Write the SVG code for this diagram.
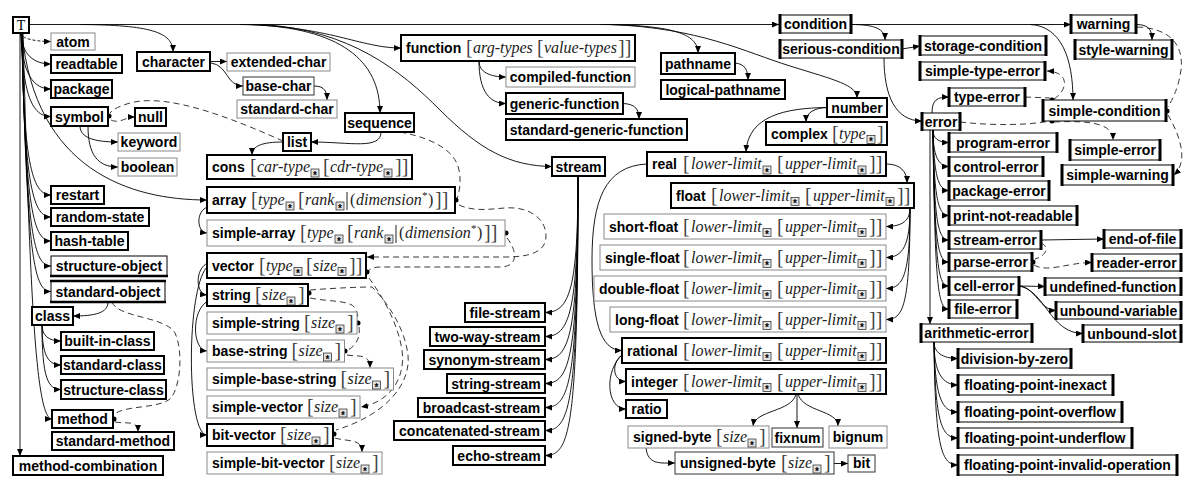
<svg xmlns="http://www.w3.org/2000/svg" width="1200" height="493" viewBox="0 0 1200 493">
<style>
.k{fill:#fff;stroke:#000;stroke-width:2}
.g{fill:#fff;stroke:#8a8a8a;stroke-width:1}
.d{fill:#fff;stroke:#333;stroke-width:1}
.cr{fill:#fff;stroke:#000;stroke-width:1}
.cb{stroke:#000;stroke-width:3}
.tb{stroke:#000;stroke-width:2.5}
.t{font-family:"Liberation Sans",Arial,sans-serif;font-weight:bold;font-size:14px;fill:#000}
.m{text-anchor:middle}
.ts{font-family:"Liberation Serif","Times New Roman",serif;font-size:14px;fill:#000;text-anchor:middle}
.it{font-family:"Liberation Serif","Times New Roman",serif;font-style:italic;font-size:16px;fill:#222}
.up{font-family:"Liberation Serif","Times New Roman",serif;font-size:16px;fill:#222}
.sup{font-family:"Liberation Serif","Times New Roman",serif;font-size:11px;fill:#222}
.br{font-family:"Liberation Serif","Times New Roman",serif;font-size:20px;fill:#444}
.sa{font-family:"Liberation Sans",Arial,sans-serif;font-weight:bold;font-size:10px;fill:#000;text-anchor:middle}
.e{fill:none;stroke:#000;stroke-width:0.9;marker-end:url(#a)}
.l{fill:none;stroke:#000;stroke-width:0.9}
.ds{fill:none;stroke:#222;stroke-width:0.9;stroke-dasharray:6 4}
.da{fill:none;stroke:#222;stroke-width:0.9;stroke-dasharray:6 4;marker-end:url(#a)}
.dt{fill:none;stroke:#000;stroke-width:0.9;stroke-dasharray:3 2;marker-end:url(#a)}
.dot{fill:#000}
</style>
<defs>
<marker id="a" viewBox="0 0 7 6" refX="7" refY="3" markerWidth="7" markerHeight="6" orient="auto" markerUnits="userSpaceOnUse"><path d="M0,0 L7,3 L0,6 z" fill="#000"/></marker>
<g id="st"><rect x="0" y="-3" width="8" height="8" fill="#e2e2e2" stroke="#222" stroke-width="0.7"/><text class="sa" x="4" y="6.6">*</text></g>
<g id="L-lim"><text class="br" x="0" y="1">[</text><text class="it" x="8" y="0">lower-limit</text><use href="#st" x="80"/><text class="br" x="94" y="1">[</text><text class="it" x="102" y="0">upper-limit</text><use href="#st" x="175"/><text class="br" x="186" y="1">]]</text></g>
<g id="L-size"><text class="br" x="0" y="1">[</text><text class="it" x="7" y="0">size</text><use href="#st" x="32"/><text class="br" x="43" y="1">]</text></g>
<g id="L-ts"><text class="br" x="0" y="1">[</text><text class="it" x="7" y="0">type</text><use href="#st" x="35"/><text class="br" x="47" y="1">[</text><text class="it" x="54" y="0">size</text><use href="#st" x="79"/><text class="br" x="90" y="1">]]</text></g>
<g id="L-cons"><text class="br" x="0" y="1">[</text><text class="it" x="7" y="0">car-type</text><use href="#st" x="61"/><text class="br" x="73" y="1">[</text><text class="it" x="80" y="0">cdr-type</text><use href="#st" x="134"/><text class="br" x="145" y="1">]]</text></g>
<g id="L-arr"><text class="br" x="0" y="1">[</text><text class="it" x="7" y="0">type</text><use href="#st" x="35"/><text class="br" x="47" y="1">[</text><text class="it" x="54" y="0">rank</text><use href="#st" x="85"/><line x1="96" y1="-13" x2="96" y2="5" stroke="#222" stroke-width="1"/><text class="up" x="99" y="0">(</text><text class="it" x="105" y="0">dimension</text><text class="sup" x="171" y="-6">*</text><text class="up" x="177" y="0">)</text><text class="br" x="184" y="1">]]</text></g>
<g id="L-type"><text class="br" x="0" y="1">[</text><text class="it" x="7" y="0">type</text><use href="#st" x="35"/><text class="br" x="45" y="1">]</text></g>
<g id="L-fn"><text class="br" x="0" y="1">[</text><text class="it" x="7" y="0">arg-types</text><text class="br" x="71" y="1">[</text><text class="it" x="78" y="0">value-types</text><text class="br" x="152" y="1">]]</text></g>
</defs>
<rect width="1200" height="493" fill="#fff"/>

<g id="connectors">
<path class="e" d="M29,24.5 L779,24.5"/>
<path class="dt" d="M20,33 C21,38 33,41.5 51,41.5"/>
<path class="e" d="M21,33 C22,55 34,64 51,64"/>
<path class="e" d="M21,33 C22,75 34,89 51,89"/>
<path class="e" d="M21,33 C23,100 34,116.5 51,116.5"/>
<path class="e" d="M22,33 C23,170 34,195 51,195"/>
<path class="e" d="M22,33 C24,190 34,217 51,217"/>
<path class="e" d="M22,33 C25,212 34,241 51,241"/>
<path class="e" d="M22,33 C26,235 34,266 51,266"/>
<path class="e" d="M22,33 C27,258 34,291.5 51,291.5"/>
<path class="e" d="M23,33 C30,300 36,419 52,419"/>
<path class="e" d="M20,33 L20,456"/>
<path class="e" d="M22,33 C35,170 130,200 207,200"/>
<path class="e" d="M80,126 C80,138 95,142 118,142"/>
<path class="e" d="M88,126 C88,155 98,167 118,167"/>
<path class="e" d="M108,302 C108,313 95,316 73,316"/>
<path class="e" d="M42,325 C42,335 48,341 61,341"/>
<path class="e" d="M42,325 C42,355 48,365 61,365"/>
<path class="e" d="M42,325 C42,378 48,389.5 61,389.5"/>
<path class="ds" d="M283,141 C240,122 170,92 130,103 C120,106 113,109 110,113"/>
<path class="da" d="M111,120 C120,124 125,117 135,117"/>
<path class="ds" d="M112,302 C118,318 165,316 175,333 C183,350 181,385 171,398 C160,409 125,405 115,414"/>
<path class="da" d="M115,422 C127,424 138,420 138,432"/>
<path class="e" d="M80,24.5 C150,25 173,32 173,52"/>
<path class="e" d="M210,61.5 L227,61.5"/>
<path class="e" d="M211,63 C228,65 226,86 243,86"/>
<path class="e" d="M314,86 C325,86 327,92 327,100"/>
<path class="e" d="M240,24.5 C330,26 360,48 401,48"/>
<path class="e" d="M250,24.5 C340,28 380,60 380,113"/>
<path class="e" d="M262,24.5 C350,30 400,70 440,110 C480,150 510,166 552,166.5"/>
<path class="e" d="M381,132 C381,150 350,142 311,142"/>
<path class="e" d="M283,142 C262,142 252,146 252,155"/>
<path class="e" d="M208,207 C196,210 196,232 207,233"/>
<path class="e" d="M208,263 C195,268 195,294 207,295"/>
<path class="e" d="M208,301 C191,310 192,350 207,351"/>
<path class="e" d="M208,266 C186,285 186,435 207,435"/>
<path class="ds" d="M400,132 C432,138 455,150 459,170 C462,185 458,195 457,199"/>
<path class="da" d="M459,205 C475,212 490,209 505,208 C528,206 546,218 546,236 C546,252 530,257 505,257 L367,257"/>
<path class="ds" d="M507,238 C518,252 518,267 500,267 L380,267 C372,267 369,270 367,272"/>
<path class="da" d="M369,278 C385,300 398,325 402,350 C406,378 390,402 361,407"/>
<path class="ds" d="M310,290 C335,288 360,287 372,287 C390,305 405,330 408,355 C411,385 385,415 336,430"/>
<path class="ds" d="M310,298 C330,302 350,300 355,308 C358,313 358,318 358,322"/>
<path class="ds" d="M359,327 C361,340 353,348 346,351"/>
<path class="da" d="M347,355 C358,357 370,353 370,368"/>
<path class="da" d="M335,438 C348,442 362,438 362,452"/>
<path class="e" d="M479,61 C479,72 490,77 506,77"/>
<path class="e" d="M479,61 C479,92 490,103.5 506,103.5"/>
<path class="e" d="M623,103.5 C635,104 639,109 639,119"/>
<path class="e" d="M600,24.5 C670,25 698,33 698,53"/>
<path class="e" d="M735,63 C745,64 748,70 748,80"/>
<path class="e" d="M578,176 C578,288 570,312.5 545,312.5"/>
<path class="e" d="M578,176 C578,311 570,336.5 545,336.5"/>
<path class="e" d="M578,176 C578,334 570,359.5 545,359.5"/>
<path class="e" d="M578,176 C578,358 570,383.5 545,383.5"/>
<path class="e" d="M578,176 C578,382 570,407.5 545,407.5"/>
<path class="e" d="M578,176 C578,405 570,430.5 545,430.5"/>
<path class="e" d="M578,176 C578,430 570,455.5 545,455.5"/>
<path class="e" d="M610,24.5 C700,28 745,52 790,66 C835,80 857,85 857,98"/>
<path class="e" d="M827,107.5 C815,108 806,112 806,122"/>
<path class="e" d="M827,107.5 C785,108 748,116 746,152"/>
<path class="e" d="M886,164 C900,164 907,171 907,183"/>
<path class="e" d="M910,208 C910,220 903,226.5 886,226.5"/>
<path class="e" d="M910,208 C910,245 903,257.5 886,257.5"/>
<path class="e" d="M910,208 C910,276 903,288.5 886,288.5"/>
<path class="e" d="M910,208 C910,307 903,319.5 886,319.5"/>
<path class="e" d="M647,164 C605,166 592,200 592,260 C592,320 600,350.5 622,350.5"/>
<path class="e" d="M623,354 C611,362 612,381.5 626,381.5"/>
<path class="e" d="M623,354 C604,370 606,409 626,409"/>
<path class="e" d="M796,394 C792,412 755,410 753,426"/>
<path class="e" d="M797,394 L797,428"/>
<path class="e" d="M798,394 C803,412 838,410 838,426"/>
<path class="e" d="M646,448 C648,465 660,463 675,463"/>
<path class="e" d="M834,463.5 L848,463.5"/>
<path class="e" d="M851,24.5 C875,24.5 885,29 885,40"/>
<path class="e" d="M851,24.5 L1071,24.5"/>
<path class="e" d="M1030,24.5 C1062,26 1073,60 1073,100"/>
<path class="e" d="M902,49 L920,46"/>
<path class="e" d="M884,58 C884,95 895,121 922,121"/>
<path class="e" d="M1136,24.5 C1149,24.5 1152,30 1152,40"/>
<path class="e" d="M932,113 C932,100 937,97 949,97"/>
<path class="e" d="M933,130 C933,138 938,142.5 949,142.5"/>
<path class="e" d="M933,130 C933,155 938,166.5 949,166.5"/>
<path class="e" d="M933,130 C934,175 938,190.5 949,190.5"/>
<path class="e" d="M933,130 C934,198 938,215.5 949,215.5"/>
<path class="e" d="M933,130 C934,222 938,240 949,240"/>
<path class="e" d="M933,130 C934,244 938,262 949,262"/>
<path class="e" d="M933,130 C935,268 938,286 949,286"/>
<path class="e" d="M933,130 C935,290 938,309 949,309"/>
<path class="e" d="M930,130 L930,324"/>
<path class="e" d="M934,342 C934,352 942,358.5 958,358.5"/>
<path class="e" d="M934,342 C934,372 942,385 958,385"/>
<path class="e" d="M934,342 C935,398 942,412 958,412"/>
<path class="e" d="M934,342 C935,424 942,438 958,438"/>
<path class="e" d="M934,342 C935,450 942,465 958,465"/>
<path class="e" d="M1041,240 L1104,239"/>
<path class="e" d="M1019,286 L1045,286.5"/>
<path class="e" d="M1019,286 C1035,287 1040,310.5 1056,310.5"/>
<path class="e" d="M1019,286 C1045,290 1050,333.5 1083,333.5"/>
<path class="ds" d="M1025,97 L1050,98"/>
<path class="da" d="M1054,99 C1068,90 1070,72 1047,71"/>
<path class="ds" d="M960,122 C995,126 1030,125 1050,121"/>
<path class="da" d="M1054,122 C1095,120 1113,125 1113,140"/>
<path class="ds" d="M1137,27 C1170,28 1184,45 1181,70 C1178,90 1172,100 1168,107"/>
<path class="da" d="M1168,115 C1178,132 1190,160 1174,175"/>
<path class="ds" d="M1041,243 C1050,247 1046,256 1035,259"/>
<path class="da" d="M1034,265 C1048,273 1068,262.5 1092,262.5"/>
<circle class="dot" cx="109" cy="116" r="2.5"/>
<circle class="dot" cx="114" cy="419" r="2.5"/>
<circle class="dot" cx="456" cy="200" r="2.5"/>
<circle class="dot" cx="506" cy="233" r="2.5"/>
<circle class="dot" cx="367" cy="272" r="2.5"/>
<circle class="dot" cx="309" cy="293" r="2.5"/>
<circle class="dot" cx="358" cy="323" r="2.5"/>
<circle class="dot" cx="345" cy="351" r="2.5"/>
<circle class="dot" cx="334" cy="434" r="2.5"/>
<circle class="dot" cx="1052" cy="100" r="2.5"/>
<circle class="dot" cx="1052" cy="121" r="2.5"/>
<circle class="dot" cx="1167" cy="111" r="2.5"/>
<circle class="dot" cx="1033" cy="262" r="2.5"/>
</g>

<g id="n-T"><rect class="k" x="13" y="17" width="16" height="16"/><text class="ts" x="21" y="30">T</text></g>
<g id="n-atom"><rect class="g" x="51" y="33" width="44" height="17"/><text class="t m" x="73" y="46.5">atom</text></g>
<g id="n-readtable"><rect class="k" x="51" y="55" width="71" height="18"/><text class="t m" x="86.5" y="69">readtable</text></g>
<g id="n-package"><rect class="k" x="51" y="80" width="61" height="18"/><text class="t m" x="81.5" y="94">package</text></g>
<g id="n-symbol"><rect class="k" x="51" y="107" width="57" height="19"/><text class="t m" x="79.5" y="121.5">symbol</text></g>
<g id="n-null"><rect class="k" x="135" y="108" width="31" height="18"/><text class="t m" x="150.5" y="122">null</text></g>
<g id="n-keyword"><rect class="g" x="118" y="133" width="62" height="18"/><text class="t m" x="149" y="147">keyword</text></g>
<g id="n-boolean"><rect class="g" x="118" y="158" width="59" height="18"/><text class="t m" x="147.5" y="172">boolean</text></g>
<g id="n-restart"><rect class="k" x="51" y="186" width="53" height="18"/><text class="t m" x="77.5" y="200">restart</text></g>
<g id="n-random-state"><rect class="k" x="51" y="208" width="98" height="18"/><text class="t m" x="100" y="222">random-state</text></g>
<g id="n-hash-table"><rect class="k" x="51" y="232" width="77" height="18"/><text class="t m" x="89.5" y="246">hash-table</text></g>
<g id="n-structure-object"><rect class="cr" x="51" y="256" width="116" height="20"/><line class="tb" x1="50" y1="276" x2="168" y2="276"/><text class="t m" x="109" y="271">structure-object</text></g>
<g id="n-standard-object"><rect class="cr" x="51" y="281" width="114" height="21"/><line class="tb" x1="50" y1="281" x2="166" y2="281"/><line class="tb" x1="50" y1="302" x2="166" y2="302"/><text class="t m" x="108" y="296.5">standard-object</text></g>
<g id="n-class"><rect class="k" x="32" y="307" width="41" height="18"/><text class="t m" x="52.5" y="321">class</text></g>
<g id="n-built-in-class"><rect class="k" x="61" y="332" width="93" height="18"/><text class="t m" x="107.5" y="346">built-in-class</text></g>
<g id="n-standard-class"><rect class="k" x="61" y="356" width="103" height="18"/><text class="t m" x="112.5" y="370">standard-class</text></g>
<g id="n-structure-class"><rect class="k" x="61" y="380" width="105" height="19"/><text class="t m" x="113.5" y="394.5">structure-class</text></g>
<g id="n-method"><rect class="k" x="52" y="410" width="61" height="18"/><text class="t m" x="82.5" y="424">method</text></g>
<g id="n-standard-method"><rect class="k" x="52" y="432" width="122" height="18"/><text class="t m" x="113" y="446">standard-method</text></g>
<g id="n-method-combination"><rect class="k" x="13" y="456" width="150" height="19"/><text class="t m" x="88" y="470.5">method-combination</text></g>

<g id="n-character"><rect class="k" x="137" y="52" width="73" height="19"/><text class="t m" x="173.5" y="66.5">character</text></g>
<g id="n-extended-char"><rect class="g" x="227" y="53" width="103" height="18"/><text class="t m" x="278.5" y="67">extended-char</text></g>
<g id="n-base-char"><rect class="d" x="243" y="77" width="71" height="18"/><text class="t m" x="278.5" y="91">base-char</text></g>
<g id="n-standard-char"><rect class="g" x="237" y="100" width="100" height="18"/><text class="t m" x="287" y="114">standard-char</text></g>
<g id="n-sequence"><rect class="k" x="345" y="113" width="69" height="19"/><text class="t m" x="379.5" y="127.5">sequence</text></g>
<g id="n-list"><rect class="k" x="283" y="133" width="28" height="18"/><text class="t m" x="297" y="147">list</text></g>
<g id="n-cons"><rect class="k" x="207" y="155" width="205" height="24"/><text class="t" x="212" y="172">cons</text><use href="#L-cons" x="250" y="172"/></g>
<g id="n-array"><rect class="k" x="207" y="187" width="248" height="26"/><text class="t" x="212" y="205">array</text><use href="#L-arr" x="251" y="205"/></g>
<g id="n-simple-array"><rect class="g" x="207" y="220" width="298" height="26"/><text class="t" x="212" y="238">simple-array</text><use href="#L-arr" x="300" y="238"/></g>
<g id="n-vector"><rect class="k" x="207" y="253" width="159" height="25"/><text class="t" x="212" y="270.5">vector</text><use href="#L-ts" x="259" y="270.5"/></g>
<g id="n-string"><rect class="k" x="207" y="284" width="101" height="22"/><text class="t" x="212" y="300">string</text><use href="#L-size" x="255" y="300"/></g>
<g id="n-simple-string"><rect class="g" x="207" y="312" width="150" height="22"/><text class="t" x="212" y="328">simple-string</text><use href="#L-size" x="304" y="328"/></g>
<g id="n-base-string"><rect class="g" x="207" y="340" width="137.5" height="22"/><text class="t" x="212" y="356">base-string</text><use href="#L-size" x="291.5" y="356"/></g>
<g id="n-simple-base-string"><rect class="g" x="207" y="368" width="186.5" height="22"/><text class="t" x="212" y="384">simple-base-string</text><use href="#L-size" x="340.5" y="384"/></g>
<g id="n-simple-vector"><rect class="g" x="207" y="396" width="153" height="22"/><text class="t" x="212" y="412">simple-vector</text><use href="#L-size" x="307" y="412"/></g>
<g id="n-bit-vector"><rect class="k" x="207" y="424" width="126" height="22"/><text class="t" x="212" y="440">bit-vector</text><use href="#L-size" x="280" y="440"/></g>
<g id="n-simple-bit-vector"><rect class="g" x="207" y="452" width="175" height="22"/><text class="t" x="212" y="468">simple-bit-vector</text><use href="#L-size" x="329" y="468"/></g>

<g id="n-function"><rect class="k" x="401" y="35" width="234" height="26"/><text class="t" x="406" y="53">function</text><use href="#L-fn" x="466" y="53"/></g>
<g id="n-compiled-function"><rect class="g" x="506" y="67" width="129" height="20"/><text class="t m" x="570.5" y="82">compiled-function</text></g>
<g id="n-generic-function"><rect class="k" x="506" y="93" width="117" height="21"/><text class="t m" x="564.5" y="108.5">generic-function</text></g>
<g id="n-standard-generic-function"><rect class="k" x="506" y="119" width="181" height="21"/><text class="t m" x="596.5" y="134.5">standard-generic-function</text></g>
<g id="n-pathname"><rect class="k" x="661" y="53" width="74" height="21"/><text class="t m" x="698" y="68.5">pathname</text></g>
<g id="n-logical-pathname"><rect class="k" x="661" y="80" width="124" height="19"/><text class="t m" x="723" y="94.5">logical-pathname</text></g>

<g id="n-stream"><rect class="k" x="552" y="157" width="53" height="19"/><text class="t m" x="578.5" y="171.5">stream</text></g>
<g id="n-file-stream"><rect class="k" x="465" y="303" width="80" height="19"/><text class="t m" x="505" y="317.5">file-stream</text></g>
<g id="n-two-way-stream"><rect class="k" x="430" y="327" width="115" height="19"/><text class="t m" x="487.5" y="341.5">two-way-stream</text></g>
<g id="n-synonym-stream"><rect class="k" x="424" y="350" width="121" height="19"/><text class="t m" x="484.5" y="364.5">synonym-stream</text></g>
<g id="n-string-stream"><rect class="k" x="447" y="374" width="98" height="19"/><text class="t m" x="496" y="388.5">string-stream</text></g>
<g id="n-broadcast-stream"><rect class="k" x="418" y="398" width="127" height="19"/><text class="t m" x="481.5" y="412.5">broadcast-stream</text></g>
<g id="n-concatenated-stream"><rect class="k" x="394" y="421" width="151" height="19"/><text class="t m" x="469.5" y="435.5">concatenated-stream</text></g>
<g id="n-echo-stream"><rect class="k" x="453" y="446" width="92" height="19"/><text class="t m" x="499" y="460.5">echo-stream</text></g>

<g id="n-number"><rect class="k" x="827" y="98" width="60" height="19"/><text class="t m" x="857" y="112.5">number</text></g>
<g id="n-complex"><rect class="k" x="766" y="122" width="121" height="23"/><text class="t" x="771" y="138.5">complex</text><use href="#L-type" x="832" y="138.5"/></g>
<g id="n-real"><rect class="k" x="647" y="152" width="239" height="24"/><text class="t" x="652" y="169">real</text><use href="#L-lim" x="683" y="169"/></g>
<g id="n-float"><rect class="k" x="671" y="183" width="243" height="25"/><text class="t" x="676" y="200.5">float</text><use href="#L-lim" x="711" y="200.5"/></g>
<g id="n-short-float"><rect class="g" x="604" y="214" width="282" height="25"/><text class="t" x="609" y="231.5">short-float</text><use href="#L-lim" x="683" y="231.5"/></g>
<g id="n-single-float"><rect class="g" x="600" y="245" width="286" height="25"/><text class="t" x="605" y="262.5">single-float</text><use href="#L-lim" x="683" y="262.5"/></g>
<g id="n-double-float"><rect class="g" x="594" y="276" width="292" height="25"/><text class="t" x="599" y="293.5">double-float</text><use href="#L-lim" x="683" y="293.5"/></g>
<g id="n-long-float"><rect class="g" x="610" y="307" width="276" height="25"/><text class="t" x="615" y="324.5">long-float</text><use href="#L-lim" x="683" y="324.5"/></g>
<g id="n-rational"><rect class="k" x="622" y="338" width="264" height="25"/><text class="t" x="627" y="355.5">rational</text><use href="#L-lim" x="683" y="355.5"/></g>
<g id="n-integer"><rect class="k" x="626" y="369" width="260" height="25"/><text class="t" x="631" y="386.5">integer</text><use href="#L-lim" x="683" y="386.5"/></g>
<g id="n-ratio"><rect class="k" x="626" y="400" width="41" height="18"/><text class="t m" x="646.5" y="414">ratio</text></g>
<g id="n-signed-byte"><rect class="g" x="628" y="426" width="141" height="22"/><text class="t" x="633" y="442">signed-byte</text><use href="#L-size" x="716" y="442"/></g>
<g id="n-fixnum"><rect class="d" x="772" y="428" width="51" height="19"/><text class="t m" x="797.5" y="442.5">fixnum</text></g>
<g id="n-bignum"><rect class="g" x="829" y="426" width="58" height="22"/><text class="t m" x="858" y="442">bignum</text></g>
<g id="n-unsigned-byte"><rect class="d" x="675" y="452" width="159" height="22"/><text class="t" x="680" y="468">unsigned-byte</text><use href="#L-size" x="781" y="468"/></g>
<g id="n-bit"><rect class="d" x="848" y="455" width="27" height="17"/><text class="t m" x="861.5" y="468">bit</text></g>

<g id="n-condition"><rect class="cr" x="780" y="15" width="71" height="18"/><line class="cb" x1="780" y1="14" x2="780" y2="34"/><line class="cb" x1="851" y1="14" x2="851" y2="34"/><text class="t m" x="815.5" y="29">condition</text></g>
<g id="n-serious-condition"><rect class="cr" x="780" y="40" width="122" height="18"/><line class="cb" x1="780" y1="39" x2="780" y2="59"/><line class="cb" x1="902" y1="39" x2="902" y2="59"/><text class="t m" x="841" y="54">serious-condition</text></g>
<g id="n-storage-condition"><rect class="cr" x="920" y="36" width="126" height="19"/><line class="cb" x1="920" y1="35" x2="920" y2="56"/><line class="cb" x1="1046" y1="35" x2="1046" y2="56"/><text class="t m" x="983" y="50.5">storage-condition</text></g>
<g id="n-simple-type-error"><rect class="cr" x="920" y="62" width="125" height="18"/><line class="cb" x1="920" y1="61" x2="920" y2="81"/><line class="cb" x1="1045" y1="61" x2="1045" y2="81"/><text class="t m" x="982.5" y="76">simple-type-error</text></g>
<g id="n-warning"><rect class="cr" x="1071" y="15" width="65" height="18"/><line class="cb" x1="1071" y1="14" x2="1071" y2="34"/><line class="cb" x1="1136" y1="14" x2="1136" y2="34"/><text class="t m" x="1103.5" y="29">warning</text></g>
<g id="n-style-warning"><rect class="cr" x="1075" y="40" width="97" height="19"/><line class="cb" x1="1075" y1="39" x2="1075" y2="60"/><line class="cb" x1="1172" y1="39" x2="1172" y2="60"/><text class="t m" x="1123.5" y="54.5">style-warning</text></g>
<g id="n-type-error"><rect class="cr" x="949" y="88" width="76" height="18"/><line class="cb" x1="949" y1="87" x2="949" y2="107"/><line class="cb" x1="1025" y1="87" x2="1025" y2="107"/><text class="t m" x="987" y="102">type-error</text></g>
<g id="n-simple-condition"><rect class="cr" x="1043" y="100" width="123" height="21"/><line class="cb" x1="1043" y1="99" x2="1043" y2="122"/><line class="cb" x1="1166" y1="99" x2="1166" y2="122"/><text class="t m" x="1104.5" y="115.5">simple-condition</text></g>
<g id="n-error"><rect class="cr" x="922" y="113" width="38" height="17"/><line class="cb" x1="922" y1="112" x2="922" y2="131"/><line class="cb" x1="960" y1="112" x2="960" y2="131"/><text class="t m" x="941" y="126.5">error</text></g>
<g id="n-program-error"><rect class="cr" x="949" y="133" width="108" height="19"/><line class="cb" x1="949" y1="132" x2="949" y2="153"/><line class="cb" x1="1057" y1="132" x2="1057" y2="153"/><text class="t m" x="1003" y="147.5">program-error</text></g>
<g id="n-control-error"><rect class="cr" x="949" y="157" width="94" height="19"/><line class="cb" x1="949" y1="156" x2="949" y2="177"/><line class="cb" x1="1043" y1="156" x2="1043" y2="177"/><text class="t m" x="996" y="171.5">control-error</text></g>
<g id="n-package-error"><rect class="cr" x="949" y="181" width="100" height="19"/><line class="cb" x1="949" y1="180" x2="949" y2="201"/><line class="cb" x1="1049" y1="180" x2="1049" y2="201"/><text class="t m" x="999" y="195.5">package-error</text></g>
<g id="n-simple-error"><rect class="cr" x="1070" y="140" width="90" height="20"/><line class="cb" x1="1070" y1="139" x2="1070" y2="161"/><line class="cb" x1="1160" y1="139" x2="1160" y2="161"/><text class="t m" x="1115" y="155">simple-error</text></g>
<g id="n-simple-warning"><rect class="cr" x="1062" y="165" width="111" height="20"/><line class="cb" x1="1062" y1="164" x2="1062" y2="186"/><line class="cb" x1="1173" y1="164" x2="1173" y2="186"/><text class="t m" x="1117.5" y="180">simple-warning</text></g>
<g id="n-print-not-readable"><rect class="cr" x="949" y="206" width="128" height="19"/><line class="cb" x1="949" y1="205" x2="949" y2="226"/><line class="cb" x1="1077" y1="205" x2="1077" y2="226"/><text class="t m" x="1013" y="220.5">print-not-readable</text></g>
<g id="n-stream-error"><rect class="cr" x="949" y="231" width="92" height="18"/><line class="cb" x1="949" y1="230" x2="949" y2="250"/><line class="cb" x1="1041" y1="230" x2="1041" y2="250"/><text class="t m" x="995" y="245">stream-error</text></g>
<g id="n-parse-error"><rect class="cr" x="949" y="253" width="83" height="18"/><line class="cb" x1="949" y1="252" x2="949" y2="272"/><line class="cb" x1="1032" y1="252" x2="1032" y2="272"/><text class="t m" x="990.5" y="267">parse-error</text></g>
<g id="n-cell-error"><rect class="cr" x="949" y="277" width="70" height="18"/><line class="cb" x1="949" y1="276" x2="949" y2="296"/><line class="cb" x1="1019" y1="276" x2="1019" y2="296"/><text class="t m" x="984" y="291">cell-error</text></g>
<g id="n-file-error"><rect class="cr" x="949" y="300" width="68" height="18"/><line class="cb" x1="949" y1="299" x2="949" y2="319"/><line class="cb" x1="1017" y1="299" x2="1017" y2="319"/><text class="t m" x="983" y="314">file-error</text></g>
<g id="n-arithmetic-error"><rect class="cr" x="921" y="324" width="111" height="18"/><line class="cb" x1="921" y1="323" x2="921" y2="343"/><line class="cb" x1="1032" y1="323" x2="1032" y2="343"/><text class="t m" x="976.5" y="338">arithmetic-error</text></g>
<g id="n-end-of-file"><rect class="cr" x="1104" y="230" width="77" height="18"/><line class="cb" x1="1104" y1="229" x2="1104" y2="249"/><line class="cb" x1="1181" y1="229" x2="1181" y2="249"/><text class="t m" x="1142.5" y="244">end-of-file</text></g>
<g id="n-reader-error"><rect class="cr" x="1092" y="254" width="89" height="17"/><line class="cb" x1="1092" y1="253" x2="1092" y2="272"/><line class="cb" x1="1181" y1="253" x2="1181" y2="272"/><text class="t m" x="1136.5" y="267.5">reader-error</text></g>
<g id="n-undefined-function"><rect class="cr" x="1045" y="278" width="136" height="17"/><line class="cb" x1="1045" y1="277" x2="1045" y2="296"/><line class="cb" x1="1181" y1="277" x2="1181" y2="296"/><text class="t m" x="1113" y="291.5">undefined-function</text></g>
<g id="n-unbound-variable"><rect class="cr" x="1056" y="302" width="125" height="17"/><line class="cb" x1="1056" y1="301" x2="1056" y2="320"/><line class="cb" x1="1181" y1="301" x2="1181" y2="320"/><text class="t m" x="1118.5" y="315.5">unbound-variable</text></g>
<g id="n-unbound-slot"><rect class="cr" x="1083" y="325" width="98" height="17"/><line class="cb" x1="1083" y1="324" x2="1083" y2="343"/><line class="cb" x1="1181" y1="324" x2="1181" y2="343"/><text class="t m" x="1132" y="338.5">unbound-slot</text></g>
<g id="n-division-by-zero"><rect class="cr" x="958" y="349" width="113" height="19"/><line class="cb" x1="958" y1="348" x2="958" y2="369"/><line class="cb" x1="1071" y1="348" x2="1071" y2="369"/><text class="t m" x="1014.5" y="363.5">division-by-zero</text></g>
<g id="n-floating-point-inexact"><rect class="cr" x="958" y="375" width="155" height="20"/><line class="cb" x1="958" y1="374" x2="958" y2="396"/><line class="cb" x1="1113" y1="374" x2="1113" y2="396"/><text class="t m" x="1035.5" y="390">floating-point-inexact</text></g>
<g id="n-floating-point-overflow"><rect class="cr" x="958" y="402" width="164" height="20"/><line class="cb" x1="958" y1="401" x2="958" y2="423"/><line class="cb" x1="1122" y1="401" x2="1122" y2="423"/><text class="t m" x="1040" y="417">floating-point-overflow</text></g>
<g id="n-floating-point-underflow"><rect class="cr" x="958" y="428" width="174" height="20"/><line class="cb" x1="958" y1="427" x2="958" y2="449"/><line class="cb" x1="1132" y1="427" x2="1132" y2="449"/><text class="t m" x="1045" y="443">floating-point-underflow</text></g>
<g id="n-floating-point-invalid-operation"><rect class="cr" x="958" y="455" width="219" height="20"/><line class="cb" x1="958" y1="454" x2="958" y2="476"/><line class="cb" x1="1177" y1="454" x2="1177" y2="476"/><text class="t m" x="1067.5" y="470">floating-point-invalid-operation</text></g>
</svg>
